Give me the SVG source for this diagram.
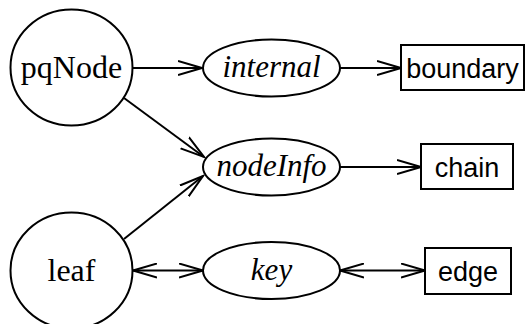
<svg xmlns="http://www.w3.org/2000/svg" width="528" height="324" viewBox="0 0 528 324">
<style>
.n{fill:#fff;stroke:#000;stroke-width:2}
.s{font-family:"Liberation Serif",serif;font-size:32px;text-anchor:middle}
.i{font-family:"Liberation Serif",serif;font-size:31px;font-style:italic;text-anchor:middle}
.a{font-family:"Liberation Sans",sans-serif;font-size:27px;text-anchor:middle}
.e{fill:none;stroke:#000;stroke-width:2}
</style>
<defs>
<marker id="ar" markerUnits="userSpaceOnUse" markerWidth="26" markerHeight="16" refX="24" refY="8" orient="auto-start-reverse">
<path d="M0,1 L24,8 L0,15" fill="none" stroke="#000" stroke-width="2"/>
</marker>
</defs>
<g id="connectors">
<path class="e" d="M133,68 L202,68" marker-end="url(#ar)"/>
<path class="e" d="M340,68 L401,68" marker-end="url(#ar)"/>
<path class="e" d="M124,98 L204,157" marker-end="url(#ar)"/>
<path class="e" d="M124,239 L203,176" marker-end="url(#ar)"/>
<path class="e" d="M340,167 L421,167" marker-end="url(#ar)"/>
<path class="e" d="M133,270.5 L203,270.5" marker-start="url(#ar)" marker-end="url(#ar)"/>
<path class="e" d="M340,270.5 L425,270.5" marker-start="url(#ar)" marker-end="url(#ar)"/>
</g>
<g id="pqNode"><ellipse class="n" cx="71.5" cy="67.5" rx="61" ry="58"/><text class="s" x="71.5" y="78">pqNode</text></g>
<g id="leaf"><ellipse class="n" cx="71.5" cy="270.5" rx="61" ry="58"/><text class="s" x="71.5" y="281">leaf</text></g>
<g id="internal"><ellipse class="n" cx="271.5" cy="68" rx="68.5" ry="28.5"/><text class="i" x="271.5" y="77">internal</text></g>
<g id="nodeInfo"><ellipse class="n" cx="271.5" cy="167" rx="68.5" ry="28.5"/><text class="i" x="271.5" y="176">nodeInfo</text></g>
<g id="key"><ellipse class="n" cx="271.5" cy="270.5" rx="68.5" ry="28.5"/><text class="i" x="271.5" y="279.5">key</text></g>
<g id="boundary"><rect class="n" x="401" y="45" width="123" height="45"/><text class="a" x="462.5" y="78">boundary</text></g>
<g id="chain"><rect class="n" x="421" y="144" width="92" height="45"/><text class="a" x="467" y="177">chain</text></g>
<g id="edge"><rect class="n" x="425" y="248" width="86" height="46"/><text class="a" x="468" y="281">edge</text></g>
</svg>
